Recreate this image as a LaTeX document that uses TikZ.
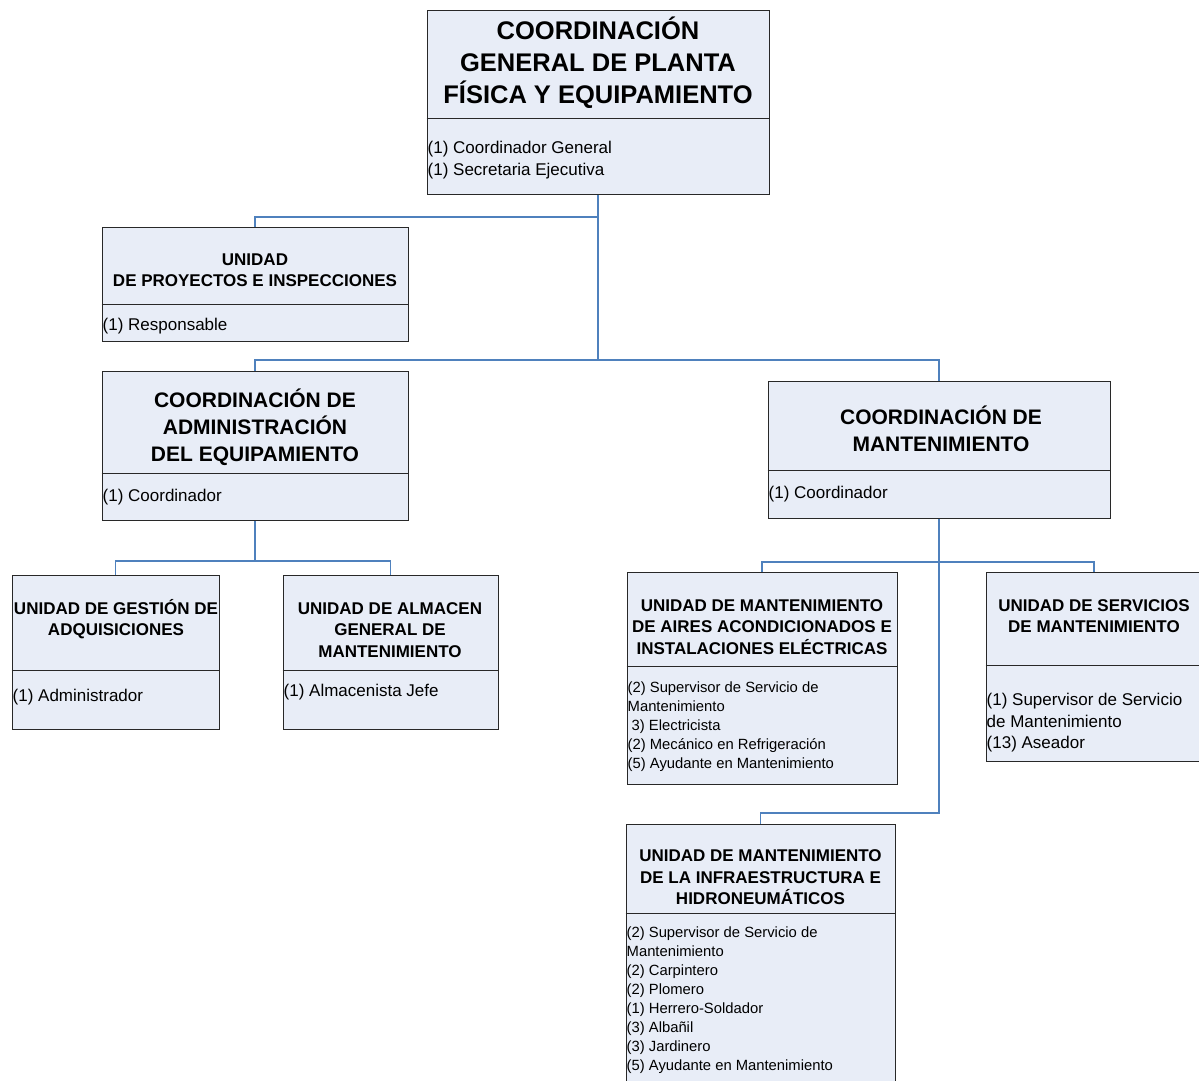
\documentclass[tikz,border=0pt]{standalone}
\usepackage{fontspec}
\setmainfont{Liberation Sans}
\definecolor{boxfill}{RGB}{232,237,247}
\definecolor{linkblue}{RGB}{79,129,189}
\definecolor{edge}{RGB}{40,40,40}
\begin{document}
\begin{tikzpicture}[x=1pt,y=-1pt,
  unitbox/.style={draw=edge, fill=boxfill, line width=1pt, inner sep=0pt,
    rectangle, minimum width=#1},
  divider/.style={draw=edge, line width=1pt},
  conn/.style={draw=linkblue, line width=1.4pt},
  head/.style={align=center, inner sep=0pt, font=\bfseries\fontsize{17}{21.5}\selectfont},
  bighead/.style={align=center, inner sep=0pt, font=\bfseries\fontsize{21}{27}\selectfont},
  body/.style={align=left, anchor=west, inner xsep=1pt, inner ysep=0pt,
    font=\fontsize{17}{21.5}\selectfont},
  smallbody/.style={align=left, anchor=west, inner xsep=1pt, inner ysep=0pt,
    font=\fontsize{14.8}{19}\selectfont}
]
\useasboundingbox (0,0) rectangle (1199,1080);
\fill[white] (0,0) rectangle (1199,1080);

% ---- boxes ----
\node[unitbox=342, minimum height=184] (top)   at (598,102)   {};
\node[unitbox=306, minimum height=114] (proy)  at (255,284)   {};
\node[unitbox=306, minimum height=149] (adm)   at (255,445.5) {};
\node[unitbox=342, minimum height=137] (mant)  at (939,449.5) {};
\node[unitbox=207, minimum height=154] (gest)  at (115.5,652) {};
\node[unitbox=215, minimum height=154] (alm)   at (390.5,652) {};
\node[unitbox=270, minimum height=212] (aires) at (762,678)   {};
\node[unitbox=216, minimum height=189] (serv)  at (1094,666.5){};
\node[unitbox=269, minimum height=266] (infra) at (760.5,957) {};

% ---- section dividers ----
\draw[divider] (top.west   |- 0,118) -- (top.east   |- 0,118);
\draw[divider] (proy.west  |- 0,304) -- (proy.east  |- 0,304);
\draw[divider] (adm.west   |- 0,473) -- (adm.east   |- 0,473);
\draw[divider] (mant.west  |- 0,470) -- (mant.east  |- 0,470);
\draw[divider] (gest.west  |- 0,670) -- (gest.east  |- 0,670);
\draw[divider] (alm.west   |- 0,670) -- (alm.east   |- 0,670);
\draw[divider] (aires.west |- 0,666) -- (aires.east |- 0,666);
\draw[divider] (serv.west  |- 0,665) -- (serv.east  |- 0,665);
\draw[divider] (infra.west |- 0,913) -- (infra.east |- 0,913);

% ---- headings ----
\node[align=center, inner sep=0pt, font=\bfseries\fontsize{25.5}{32}\selectfont]
  (topH) at (598,63) {COORDINACIÓN\\GENERAL DE PLANTA\\FÍSICA Y EQUIPAMIENTO};
\node[head] (proyH) at (255,270) {UNIDAD\\DE PROYECTOS E INSPECCIONES};
\node[bighead] (admH) at (255,427) {COORDINACIÓN DE\\ADMINISTRACIÓN\\DEL EQUIPAMIENTO};
\node[bighead] (mantH) at (941,429) {COORDINACIÓN DE\\MANTENIMIENTO};
\node[head] (gestH) at (116,619) {UNIDAD DE GESTIÓN DE\\ADQUISICIONES};
\node[head] (almH) at (390,630) {UNIDAD DE ALMACEN\\GENERAL DE\\MANTENIMIENTO};
\node[head] (airesH) at (762,627) {UNIDAD DE MANTENIMIENTO\\DE AIRES ACONDICIONADOS E\\INSTALACIONES ELÉCTRICAS};
\node[head] (servH) at (1094,616) {UNIDAD DE SERVICIOS\\DE MANTENIMIENTO};
\node[head] (infraH) at (760.5,877.5) {UNIDAD DE MANTENIMIENTO\\DE LA INFRAESTRUCTURA E\\HIDRONEUMÁTICOS};

% ---- staff lists ----
\node[body] (topB) at (top.west |- 0,160) {(1) Coordinador General\\(1) Secretaria Ejecutiva};
\node[body] (proyB) at (proy.west |- 0,326) {(1) Responsable};
\node[body] (admB) at (adm.west |- 0,497) {(1) Coordinador};
\node[body] (mantB) at (mant.west |- 0,494) {(1) Coordinador};
\node[body] (gestB) at (gest.west |- 0,697) {(1) Administrador};
\node[body] (almB) at (alm.west |- 0,692) {(1) Almacenista Jefe};
\node[smallbody] (airesB) at (aires.west |- 0,726.5)
  {(2) Supervisor de Servicio de\\Mantenimiento\\\hspace*{4pt}3) Electricista\\(2) Mecánico en Refrigeración\\(5) Ayudante en Mantenimiento};
\node[body] (servB) at (serv.west |- 0,723)
  {(1) Supervisor de Servicio\\de Mantenimiento\\(13) Aseador};
\node[smallbody] (infraB) at (infra.west |- 0,1000)
  {(2) Supervisor de Servicio de\\Mantenimiento\\(2) Carpintero\\(2) Plomero\\(1) Herrero-Soldador\\(3) Albañil\\(3) Jardinero\\(5) Ayudante en Mantenimiento};

% ---- connectors ----
\coordinate (busA) at (0,217);
\coordinate (busB) at (0,360);
\coordinate (busC) at (0,561);
\coordinate (busD) at (0,562);
\coordinate (busE) at (0,813);
\draw[conn] (top.south) -- (top.south |- busB);
\draw[conn] (top.south |- busA) -| (proy.north);
\draw[conn] (adm.north) |- (mant.north |- busB) -- (mant.north);
\draw[conn] (adm.south) -- (adm.south |- busC);
\draw[conn] (gest.north) |- (alm.north |- busC) -- (alm.north);
\draw[conn] (mant.south) -- (mant.south |- busE) -| (infra.north);
\draw[conn] (aires.north) |- (serv.north |- busD) -- (serv.north);
\end{tikzpicture}
\end{document}
